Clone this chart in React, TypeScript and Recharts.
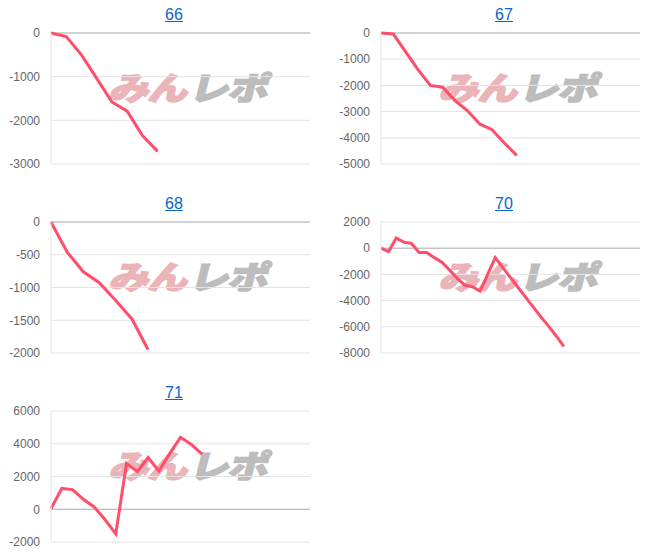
import { LineChart, Line, XAxis, YAxis, CartesianGrid, ReferenceLine } from 'recharts';

// cumulative values per machine
const values66 = [0, -80, -500, -1040, -1580, -1790, -2350, -2710];
const values67 = [0, -40, -720, -1400, -2000, -2070, -2580, -2960, -3470, -3690, -4200, -4670];
const values68 = [0, -460, -760, -930, -1200, -1480, -1950];
const values70 = [
  0, -260, 770, 460, 360, -330, -330, -720, -1070, -1660, -2300, -2810, -2940,
  -3270, -2000, -720, -1480, -2250, -3000, -3750, -4500, -5250, -5950, -6700, -7490,
];
const values71 = [40, 1270, 1200, 610, 140, -630, -1500, 2800, 2290, 3160, 2330, 3400, 4390, 3960, 3370];

// number of slots on each x axis (the line stops before the end)
const slots = [18, 22, 17, 35, 25];

const ticks66 = [0, -1000, -2000, -3000];
const ticks67 = [0, -1000, -2000, -3000, -4000, -5000];
const ticks68 = [0, -500, -1000, -1500, -2000];
const ticks70 = [2000, 0, -2000, -4000, -6000, -8000];
const ticks71 = [6000, 4000, 2000, 0, -2000];

const titles = ['66', '67', '68', '70', '71'];

const panels = [
  { title: titles[0], values: values66, slots: slots[0], ticks: ticks66, left: 0, top: 15 },
  { title: titles[1], values: values67, slots: slots[1], ticks: ticks67, left: 330, top: 15 },
  { title: titles[2], values: values68, slots: slots[2], ticks: ticks68, left: 0, top: 204 },
  { title: titles[3], values: values70, slots: slots[3], ticks: ticks70, left: 330, top: 204 },
  { title: titles[4], values: values71, slots: slots[4], ticks: ticks71, left: 0, top: 393 },
];

const FONT = '"Liberation Sans", Arial, Helvetica, sans-serif';
const LINE = '#ff4d6a';

function Watermark({ left, top }: { left: number; top: number }) {
  return (
    <div
      style={{
        position: 'absolute',
        left: left + 108,
        top: top + 47,
        fontFamily: '"Noto Sans CJK JP", sans-serif',
        fontWeight: 900,
        fontSize: 32,
        lineHeight: '32px',
        whiteSpace: 'nowrap',
        transform: 'skewX(-14deg) scaleX(1.25)',
        transformOrigin: 'left top',
        letterSpacing: -1,
      }}
    >
      <span style={{ color: '#eab4b9', WebkitTextStroke: '1.5px #eab4b9' }}>みん</span>
      <span style={{ color: '#bdbdbd', WebkitTextStroke: '1.5px #bdbdbd', marginLeft: 2 }}>レポ</span>
    </div>
  );
}

function Panel({ p }: { p: (typeof panels)[number] }) {
  const data = p.values.map((v, i) => ({ x: i, v }));
  const lo = Math.min(...p.ticks);
  const hi = Math.max(...p.ticks);
  return (
    <>
      <div
        style={{
          position: 'absolute',
          left: p.left,
          top: p.top - 16.5,
          width: 332,
          textAlign: 'center',
          fontFamily: FONT,
          fontSize: 16,
          lineHeight: '16px',
        }}
      >
        <a href="#" style={{ color: '#0a66cc', textDecoration: 'underline' }}>
          {p.title}
        </a>
      </div>
      <Watermark left={p.left} top={p.top} />
      <div style={{ position: 'absolute', left: p.left, top: p.top }}>
        <LineChart width={310} height={151} data={data} margin={{ top: 10, right: 8, bottom: 10, left: 0 }}>
          <CartesianGrid horizontal vertical={false} stroke="#e4e4e4" />
          <XAxis dataKey="x" type="number" domain={[0, p.slots - 1]} hide />
          <YAxis
            type="number"
            domain={[lo, hi]}
            ticks={p.ticks}
            interval={0}
            width={43}
            axisLine={{ stroke: '#e4e4e4' }}
            tickLine={false}
            tickSize={0}
            tickMargin={11}
            tick={{ fill: '#666', fontSize: 12, fontFamily: FONT }}
          />
          <ReferenceLine y={0} stroke="#b4b4b4" />
          <Line
            type="linear"
            dataKey="v"
            stroke={LINE}
            strokeWidth={3}
            dot={false}
            isAnimationActive={false}
          />
        </LineChart>
      </div>
    </>
  );
}

export default function App() {
  return (
    <div style={{ position: 'relative', width: 647, height: 546 }}>
      {panels.map((p) => (
        <Panel key={p.title} p={p} />
      ))}
    </div>
  );
}
